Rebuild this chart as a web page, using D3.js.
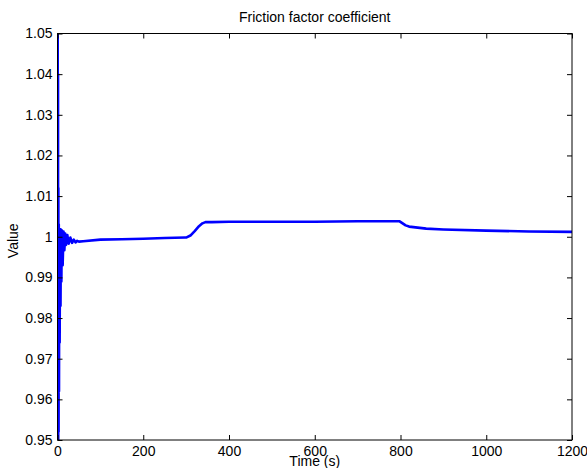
<!DOCTYPE html>
<html>
<head>
<meta charset="utf-8">
<script src="https://cdn.jsdelivr.net/npm/d3@7"></script>
<style>
  body { margin: 0; background: #fff; }
  svg { display: block; font-family: "Liberation Sans", Arial, Helvetica, sans-serif; }
</style>
</head>
<body>
<svg id="chart" width="587" height="468"></svg>
<script>
// time (s) and friction factor values
var times = [0, 0.4, 0.8, 1.2, 1.6, 2.0, 2.5, 3, 3.5, 4, 5, 6, 7, 8, 9, 10, 12, 14, 16, 18, 20,
    23, 26, 30, 34, 38, 42, 46, 50, 60, 100, 150, 200, 250, 298, 300, 310, 320, 330, 338, 345,
    360, 400, 500, 600, 700, 798, 805, 812, 820, 835, 860, 900, 1000, 1100, 1200];
var values = [1.0, 1.10, 0.90, 1.04, 0.93, 1.012, 0.952, 1.003, 0.962, 1.0018, 0.974, 1.0019,
    0.983, 1.0018, 0.989, 1.0016, 0.993, 1.0013, 0.9967, 1.0008, 0.998, 1.0004, 0.9983, 0.9998,
    0.9985, 0.9993, 0.9986, 0.9990, 0.9988, 0.9989, 0.9993, 0.9994, 0.9995, 0.9997, 0.9998,
    0.9998, 1.0003, 1.0014, 1.0026, 1.0033, 1.0036, 1.0036, 1.0037, 1.0037, 1.0037, 1.0038,
    1.0038, 1.0033, 1.0028, 1.0025, 1.0023, 1.0020, 1.0018, 1.0015, 1.0013, 1.0012];
var xTicks = [0, 200, 400, 600, 800, 1000, 1200];
var yTicks = [0.95, 0.96, 0.97, 0.98, 0.99, 1, 1.01, 1.02, 1.03, 1.04, 1.05];

var margin = { top: 33.5, right: 15, bottom: 28, left: 57.5 },
    width = 587 - margin.left - margin.right,
    height = 468 - margin.top - margin.bottom;

var svg = d3.select('#chart');
var g = svg.append('g').attr('transform', 'translate(' + margin.left + ',' + margin.top + ')');

var x = d3.scaleLinear().domain([0, 1200]).range([0, width]);
var y = d3.scaleLinear().domain([0.95, 1.05]).range([height, 0]);

g.append('clipPath').attr('id', 'clip')
    .append('rect').attr('width', width).attr('height', height);

var line = d3.line()
    .x(function (d, i) { return x(times[i]); })
    .y(function (d) { return y(d); });

g.append('path')
    .datum(values)
    .attr('clip-path', 'url(#clip)')
    .attr('fill', 'none')
    .attr('stroke', '#0000ff')
    .attr('stroke-width', 2.6)
    .attr('stroke-linejoin', 'round')
    .attr('d', line);

var fmt = function (d) { return d3.format('')(+d.toFixed(2)); };

function styleAxis(sel) {
    sel.selectAll('.domain').remove();
    sel.selectAll('line').attr('stroke', '#000');
    sel.selectAll('text').attr('font-size', 14).attr('fill', '#000')
        .attr('font-family', '"Liberation Sans", Arial, sans-serif');
}

g.append('g').attr('transform', 'translate(0,' + height + ')')
    .call(d3.axisBottom(x).tickValues(xTicks).tickSize(-5).tickPadding(6).tickFormat(d3.format('d')))
    .call(styleAxis);
g.append('g')
    .call(d3.axisTop(x).tickValues(xTicks).tickSize(-5).tickFormat(''))
    .call(styleAxis);
g.append('g')
    .call(d3.axisLeft(y).tickValues(yTicks).tickSize(-5).tickPadding(5).tickFormat(fmt))
    .call(styleAxis);
g.append('g').attr('transform', 'translate(' + width + ',0)')
    .call(d3.axisRight(y).tickValues(yTicks).tickSize(-5).tickFormat(''))
    .call(styleAxis);

g.append('rect')
    .attr('width', width).attr('height', height)
    .attr('fill', 'none').attr('stroke', '#000').attr('stroke-width', 1);

svg.append('text')
    .attr('x', margin.left + width / 2).attr('y', 22)
    .attr('text-anchor', 'middle').attr('font-size', 14)
    .text('Friction factor coefficient');

svg.append('text')
    .attr('x', margin.left + width / 2).attr('y', 466)
    .attr('text-anchor', 'middle').attr('font-size', 14)
    .text('Time (s)');

svg.append('text')
    .attr('transform', 'translate(18,' + (margin.top + height / 2 + 4) + ') rotate(-90)')
    .attr('text-anchor', 'middle').attr('font-size', 14)
    .text('Value');
</script>
</body>
</html>
